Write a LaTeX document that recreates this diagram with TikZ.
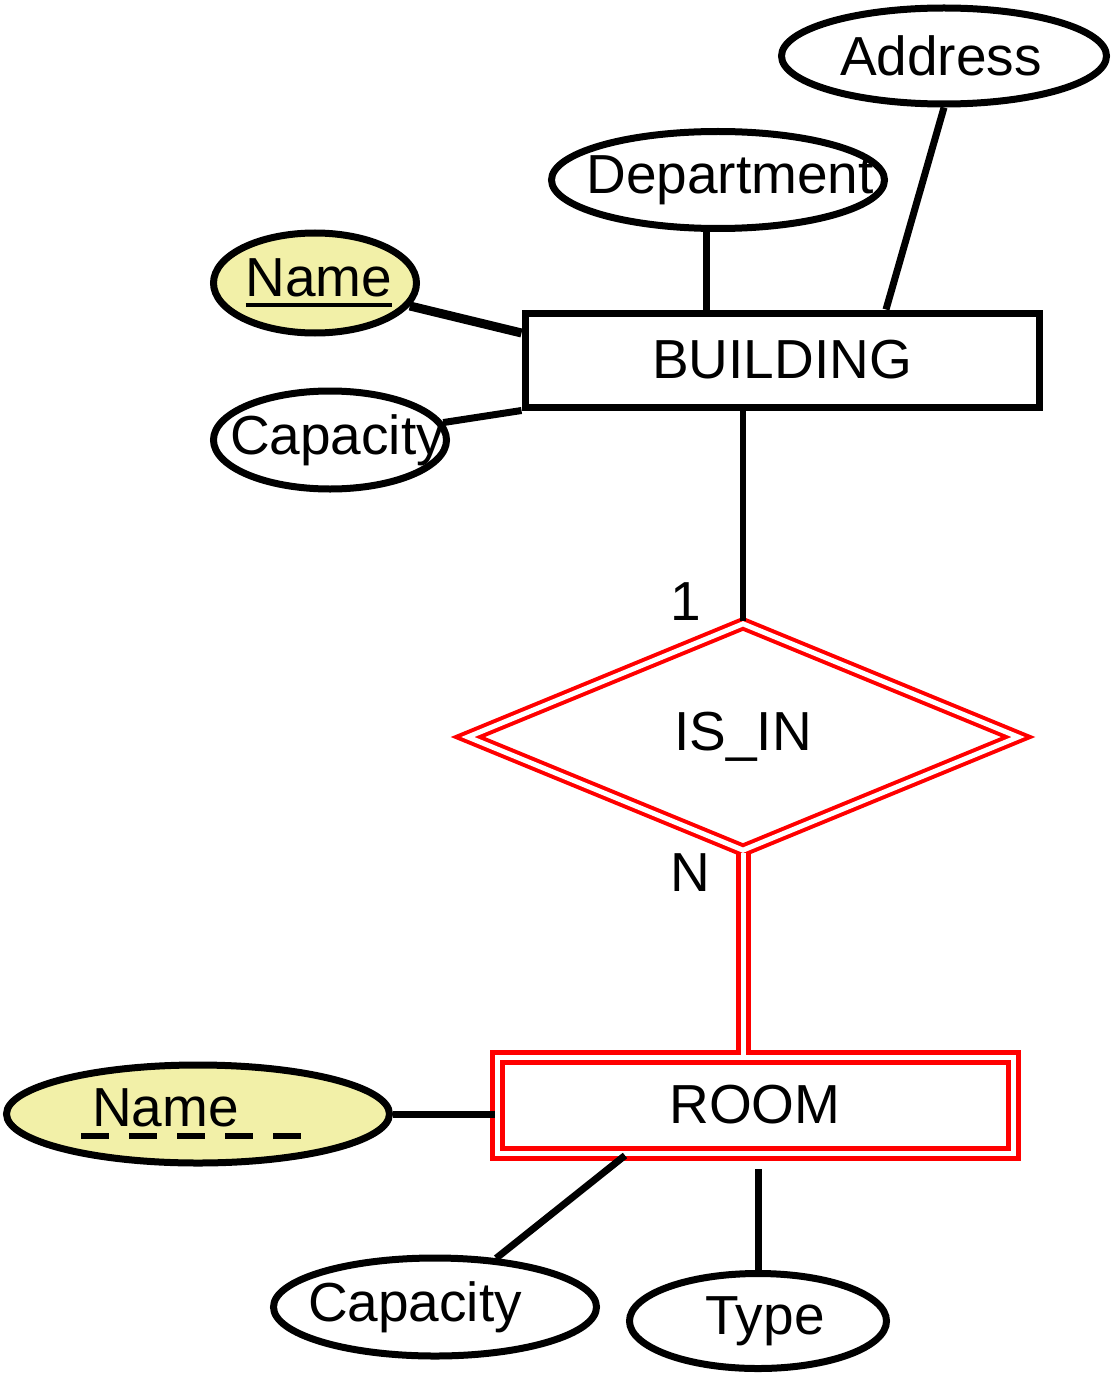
\documentclass[tikz,border=0pt]{standalone}
\usepackage{fontspec}
\setmainfont{Liberation Sans}
\usetikzlibrary{shapes.geometric,calc}
\definecolor{keyfill}{HTML}{F2F0A8}
\definecolor{weak}{HTML}{FF0000}
% attribute text must not widen the ellipse; optional shift of the text
\newcommand{\att}[2][0pt]{\makebox[0pt]{\rlap{\hspace*{#1}\makebox[0pt]{#2}}}}
\newcommand{\keyname}[1]{\setbox0\hbox{#1}\rlap{\rule[-10pt]{\wd0}{4pt}}\box0}
\newcommand{\dashbar}{\rule{28pt}{6pt}}
\newcommand{\partialkey}[1]{\makebox[212pt][l]{\rlap{\kern-11pt\raisebox{-13pt}{\dashbar\kern20pt\dashbar\kern20pt\dashbar\kern20pt\dashbar\kern20pt\dashbar}}#1}}

\begin{document}
\begin{tikzpicture}[x=1pt,y=-1pt,
  every node/.style={font=\fontsize{55}{60}\selectfont},
  attr/.style={ellipse,draw,line width=7pt,inner sep=0pt},
  entity/.style={rectangle,draw,line width=7pt,minimum width=514pt,minimum height=94pt,inner sep=0pt},
  weakentity/.style={entity,line width=5pt,minimum width=516pt,minimum height=96pt,draw=weak,double=white,double distance=5pt},
  ident/.style={diamond,draw=weak,line width=4pt,double=white,double distance=5pt,inner sep=0pt,minimum width=552pt,minimum height=228pt},
  link/.style={line width=7pt},
  idlink/.style={draw=weak,line width=5pt,double=white,double distance=5pt}]
  \useasboundingbox (0,0) rectangle (1113,1388);

  % entities and relationship
  \node[entity] (bldg) at (782,360) {BUILDING};
  \node[ident] (isin) at (743,737) {IS\_IN};
  \node[weakentity] (room) at (755,1105) {ROOM};

  % attributes
  \node[attr,minimum width=325pt,minimum height=96pt] (addr) at (944,56) {\att[-3pt]{Address}};
  \node[attr,minimum width=333pt,minimum height=97pt] (dept) at (718,180) {\att[12pt]{Department}};
  \node[attr,fill=keyfill,minimum width=203pt,minimum height=100pt] (nameB) at (315,283) {\att[4pt]{\keyname{Name}}};
  \node[attr,minimum width=233pt,minimum height=98pt] (capB) at (330,440) {\att[7pt]{Capacity}};
  \node[attr,fill=keyfill,minimum width=383pt,minimum height=98pt] (nameR) at (198,1114) {\att{\partialkey{Name}}};
  \node[attr,minimum width=323pt,minimum height=98pt] (capR) at (435,1307) {\att[-20pt]{Capacity}};
  \node[attr,minimum width=257pt,minimum height=95pt] (type) at (758,1321) {\att[7pt]{Type}};

  % cardinalities
  \node (one) at (686,602) {1};
  \node (many) at (690,873) {N};

  \draw[link] ([xshift=-12pt]dept.south) -- ([xshift=-12pt]dept.south |- bldg.north);
  \draw[link] (addr.south) -- ([xshift=104pt]bldg.north);
  \draw[link,line width=9pt] (nameB) -- ([yshift=27pt]bldg.west);
  \draw[link] (capB) -- (bldg.south west);
  \draw[link,line width=6pt] (isin.north |- bldg.south) -- (isin.north);
  \draw[idlink] (isin.south) -- (isin.south |- room.north);
  \draw[link] (nameR.east) -- (nameR.east -| room.west);
  \draw[link] (capR) -- ([xshift=-130pt]room.south);
  \draw[link,shorten >=13pt] (type.north) -- (type.north |- room.south);
\end{tikzpicture}
\end{document}
